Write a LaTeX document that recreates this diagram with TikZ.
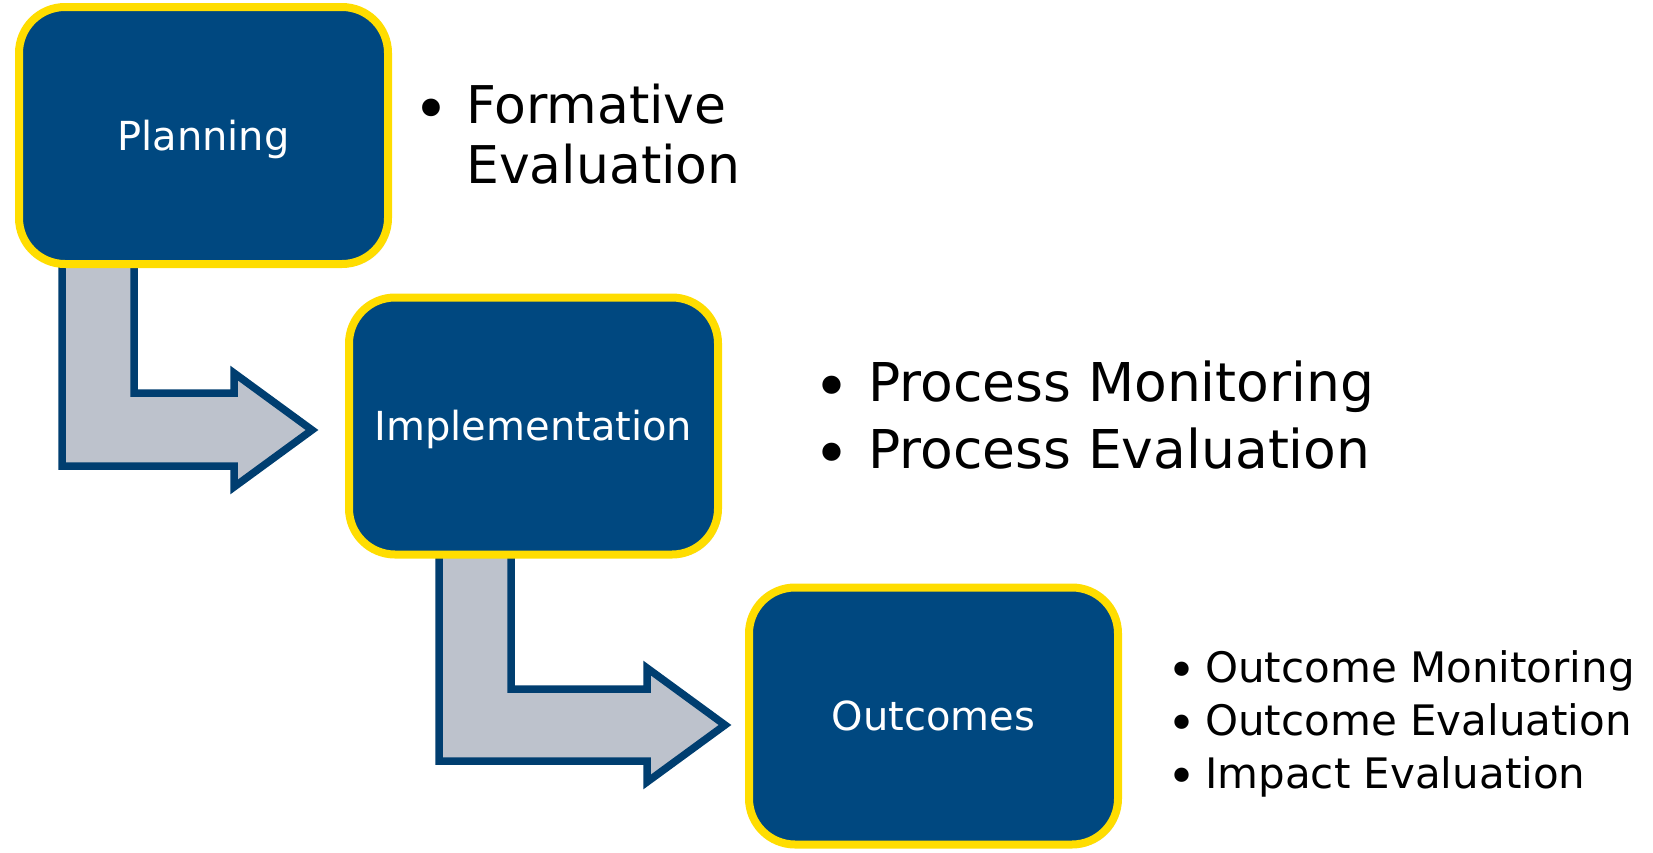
\documentclass[tikz,border=0pt]{standalone}
\usepackage{fontspec}
\setmainfont{DejaVu Sans}
\usetikzlibrary{shadows}
\definecolor{boxblue}{RGB}{0,72,128}
\definecolor{boxyellow}{RGB}{255,221,0}
\definecolor{arrowgray}{RGB}{189,194,204}
\definecolor{arrowline}{RGB}{0,62,112}
\newcommand{\bl}[1]{\llap{\makebox[0pt][c]{\raisebox{-0.14em}{\scalebox{1.17}{•}}}\hspace{#1}}}
\begin{document}
\begin{tikzpicture}[x=1pt,y=-1pt,
  stage/.style={rectangle, rounded corners=46pt, draw=boxyellow, fill=boxblue,
    line width=8pt, minimum width=369pt, minimum height=257pt, text=white,
    font=\fontsize{40}{48}\selectfont, text height=29pt, text depth=0pt,
    drop shadow={opacity=0.22, shadow xshift=3pt, shadow yshift=-3pt}},
  bendarrow/.style={draw=arrowline, fill=arrowgray, line width=7.5pt, miter limit=10,
    drop shadow={opacity=0.18, shadow xshift=2pt, shadow yshift=-2pt}},
  item/.style={anchor=base west, inner sep=0pt, text=black},
  bigtext/.style={font=\fontsize{52}{60}\selectfont},
  midtext/.style={font=\fontsize{53.5}{60}\selectfont},
  smalltext/.style={font=\fontsize{42}{50}\selectfont}]
\useasboundingbox (0,0) rectangle (1653,852);
% bent block arrows
\path[bendarrow] (62,250) -- (134,250) -- (134,393) -- (234,393) -- (234,373)
  -- (312,430) -- (234,487) -- (234,466) -- (62,466) -- cycle;
\path[bendarrow] (439,540) -- (511,540) -- (511,689) -- (647,689) -- (647,668)
  -- (725,725) -- (647,782) -- (647,761) -- (439,761) -- cycle;
% stages
\node[stage] (plan) at (203.5,135.5) {Planning};
\node[stage] (impl) at (533.5,426) {Implementation};
\node[stage] (outc) at (933.5,716) {Outcomes};
% lists
\node[item, bigtext] (f1) at (466,123) {\bl{35pt}Formative};
\node[item, bigtext] (f2) at (466,183) {Evaluation};
\node[item, midtext] (p1) at (868,401) {\bl{36pt}Process Monitoring};
\node[item, midtext] (p2) at (868,468) {\bl{36pt}Process Evaluation};
\node[item, smalltext] (o1) at (1205,682) {\bl{23pt}Outcome Monitoring};
\node[item, smalltext] (o2) at (1205,735) {\bl{23pt}Outcome Evaluation};
\node[item, smalltext] (o3) at (1205,788) {\bl{23pt}Impact Evaluation};
\end{tikzpicture}
\end{document}
